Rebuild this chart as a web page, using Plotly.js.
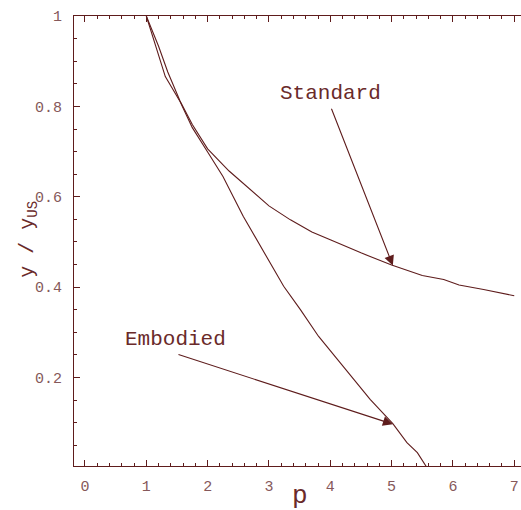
<!DOCTYPE html>
<html>
<head>
<meta charset="utf-8">
<script src="https://cdn.plot.ly/plotly-3.0.1.min.js"></script>
<style>html,body{margin:0;padding:0;background:#fff;}#chart{width:521px;height:510px;}</style>
</head>
<body>
<div id="chart"></div>
<script>
// Data
const standardP = [1, 1.2, 1.35, 1.55, 1.75, 2.0, 2.35, 2.7, 3.0, 3.35, 3.7, 4.0, 4.5, 5.0, 5.5, 5.85, 6.1, 6.5, 7.0];
const standardY = [1, 0.933, 0.876, 0.812, 0.760, 0.706, 0.657, 0.615, 0.580, 0.549, 0.522, 0.505, 0.476, 0.449, 0.426, 0.417, 0.405, 0.395, 0.381];
const embodiedP = [1, 1.31, 1.55, 1.75, 2.0, 2.25, 2.58, 2.96, 3.24, 3.51, 3.81, 4.16, 4.65, 5.02, 5.25, 5.42, 5.58];
const embodiedY = [1, 0.866, 0.811, 0.753, 0.699, 0.645, 0.557, 0.466, 0.402, 0.351, 0.291, 0.233, 0.152, 0.098, 0.056, 0.034, 0.0];
const xTickVals = [0, 1, 2, 3, 4, 5, 6, 7];
const yTickVals = [0.2, 0.4, 0.6, 0.8, 1];
const yTickText = ['0.2', '0.4', '0.6', '0.8', '1'];
// label positions and arrow endpoints (data coords)
const labelNames = ['Standard', 'Embodied'];
const labelPos = [[4.0, 0.828], [1.476, 0.284]];
const arrowTail = [[4.01, 0.798], [1.50, 0.252]];
const arrowTip = [[5.02, 0.448], [5.02, 0.097]];

const lineCol = '#5e1c1c';
const tickCol = '#86585a';
const FONT = '"Liberation Mono", "Courier New", monospace';

const traces = [
  {x: standardP, y: standardY, mode: 'lines', line: {color: lineCol, width: 1.1}, hoverinfo: 'skip'},
  {x: embodiedP, y: embodiedY, mode: 'lines', line: {color: lineCol, width: 1.1}, hoverinfo: 'skip'}
];

const annotations = [];
for (let i = 0; i < labelNames.length; i++) {
  annotations.push({
    x: labelPos[i][0], y: labelPos[i][1], xref: 'x', yref: 'y',
    text: labelNames[i], showarrow: false,
    xanchor: 'center', yanchor: 'middle',
    font: {family: FONT, size: 21, color: '#6a2a2a'}
  });
  annotations.push({
    x: arrowTip[i][0], y: arrowTip[i][1], xref: 'x', yref: 'y',
    ax: arrowTail[i][0], ay: arrowTail[i][1], axref: 'x', ayref: 'y',
    text: '', showarrow: true, arrowhead: 2, arrowsize: 1.8, arrowwidth: 1.1,
    arrowcolor: lineCol, standoff: 0
  });
}
annotations.push({
  xref: 'paper', yref: 'paper', x: -0.1007, y: 0.505,
  text: 'y / y<sub>US</sub>', showarrow: false, textangle: -90,
  xanchor: 'center', yanchor: 'middle',
  font: {family: FONT, size: 20, color: '#6a2a2a'}
});
annotations.push({
  xref: 'paper', yref: 'paper', x: 0.5056, y: -0.066,
  text: 'p', showarrow: false,
  xanchor: 'center', yanchor: 'middle',
  font: {family: FONT, size: 26, color: '#6a2a2a'}
});

const layout = {
  width: 521, height: 510,
  margin: {l: 74, r: 0, t: 16, b: 44, pad: 0},
  paper_bgcolor: '#ffffff', plot_bgcolor: '#ffffff',
  showlegend: false,
  xaxis: {
    range: [-0.179, 7.11], showgrid: false, zeroline: false,
    showline: true, linecolor: lineCol, linewidth: 1, mirror: 'allticks',
    ticks: 'inside', ticklen: 6, tickwidth: 1, tickcolor: lineCol,
    tickvals: xTickVals, ticklabelstandoff: 6,
    tickfont: {family: FONT, size: 15, color: tickCol},
    minor: {dtick: 0.2, tick0: 0, ticks: 'inside', ticklen: 3, tickwidth: 1, tickcolor: lineCol, showgrid: false}
  },
  yaxis: {
    range: [0.0044, 1], showgrid: false, zeroline: false,
    showline: true, linecolor: lineCol, linewidth: 1, mirror: false,
    ticks: 'inside', ticklen: 6, tickwidth: 1, tickcolor: lineCol,
    tickvals: yTickVals, ticktext: yTickText, ticklabelstandoff: 8,
    tickfont: {family: FONT, size: 15, color: tickCol},
    minor: {dtick: 0.05, tick0: 0, ticks: 'inside', ticklen: 3, tickwidth: 1, tickcolor: lineCol, showgrid: false}
  },
  annotations: annotations
};

Plotly.newPlot('chart', traces, layout, {displayModeBar: false, staticPlot: true});
</script>
</body>
</html>
